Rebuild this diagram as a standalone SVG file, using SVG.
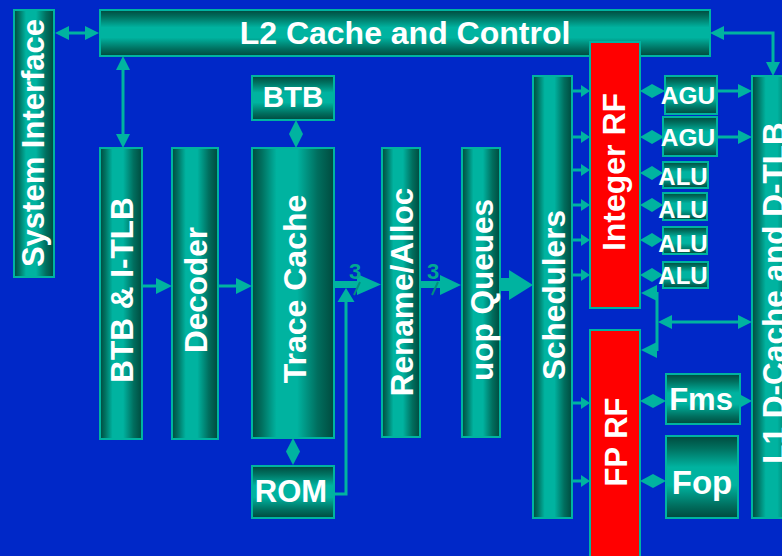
<svg xmlns="http://www.w3.org/2000/svg" width="782" height="556" viewBox="0 0 782 556">
  <defs>
    <!-- teal shading across vertical bars -->
    <linearGradient id="gv" x1="0" y1="0" x2="1" y2="0">
      <stop offset="0" stop-color="#004a3e"/>
      <stop offset="0.12" stop-color="#00705f"/>
      <stop offset="0.3" stop-color="#00b3a0"/>
      <stop offset="0.55" stop-color="#00b3a0"/>
      <stop offset="0.8" stop-color="#006e5e"/>
      <stop offset="1" stop-color="#004a3e"/>
    </linearGradient>
    <!-- teal shading down horizontal boxes -->
    <linearGradient id="gh" x1="0" y1="0" x2="0" y2="1">
      <stop offset="0" stop-color="#004a3e"/>
      <stop offset="0.15" stop-color="#00705f"/>
      <stop offset="0.38" stop-color="#00b3a0"/>
      <stop offset="0.6" stop-color="#00b3a0"/>
      <stop offset="0.85" stop-color="#006e5e"/>
      <stop offset="1" stop-color="#004a3e"/>
    </linearGradient>
    <style>
      .bv { fill: url(#gv); stroke: #00b3a0; stroke-width: 2; }
      .bh { fill: url(#gh); stroke: #00b3a0; stroke-width: 2; }
      .rf { fill: #ff0000; stroke: #00b3a0; stroke-width: 2; }
      .t { font-family: "Liberation Sans", Arial, sans-serif; font-weight: bold; fill: #ffffff; text-anchor: middle; }
      .ln { stroke: #00b3a0; stroke-width: 3; fill: none; }
      .hd { fill: #00b3a0; }
      .w { font-family: "Liberation Sans", Arial, sans-serif; font-weight: bold; fill: #00a892; text-anchor: middle; font-size: 22px; }
    </style>
  </defs>

  <rect x="0" y="0" width="782" height="556" fill="#0028c8"/>

  <!-- connectors -->
  <g id="connectors">
    <!-- System Interface <-> L2 -->
    <line class="ln" x1="68" y1="33" x2="86" y2="33"/>
    <polygon class="hd" points="55,33 69,26 69,40"/>
    <polygon class="hd" points="99,33 85,26 85,40"/>
    <!-- L2 <-> BTB & I-TLB -->
    <line class="ln" x1="123" y1="69" x2="123" y2="135"/>
    <polygon class="hd" points="123,56 116,70 130,70"/>
    <polygon class="hd" points="123,148 116,134 130,134"/>
    <!-- front end flow -->
    <line class="ln" x1="142" y1="286" x2="157" y2="286" stroke-width="4"/>
    <polygon class="hd" points="172,286 156,278 156,294"/>
    <line class="ln" x1="218" y1="286" x2="237" y2="286" stroke-width="4"/>
    <polygon class="hd" points="252,286 236,278 236,294"/>
    <!-- BTB <-> Trace Cache, Trace Cache <-> ROM -->
    <polygon class="hd" points="296,120 303,134 296,148 289,134"/>
    <polygon class="hd" points="293,438 300,451.5 293,465 286,451.5"/>
    <!-- Trace Cache -> Rename/Alloc (3 wide) -->
    <polygon class="hd" points="333,281 357,281 357,274 381,284.5 357,295 357,288 333,288"/>
    <!-- ROM feeds into the trace cache output -->
    <polyline class="ln" points="334,494 346,494 346,300"/>
    <polygon class="hd" points="346,288 337.5,302 354.5,302"/>
    <text class="w" x="355" y="279">3</text>
    <line x1="354" y1="295" x2="360" y2="282" stroke="#00907e" stroke-width="2"/>
    <!-- Rename/Alloc -> uop Queues (3 wide) -->
    <polygon class="hd" points="420,281 440,281 440,275 461,285 440,295 440,288 420,288"/>
    <text class="w" x="433" y="279">3</text>
    <line x1="432" y1="295" x2="438" y2="282" stroke="#00907e" stroke-width="2"/>
    <!-- uop Queues -> Schedulers -->
    <polygon class="hd" points="500,278 509,278 509,270 533,285 509,300 509,291 500,291"/>
    <!-- Schedulers -> Integer RF ports -->
    <g>
      <line class="ln" x1="572" y1="91" x2="582" y2="91" stroke-width="2"/>
      <polygon class="hd" points="590,91 581,85 581,97"/>
      <line class="ln" x1="572" y1="137" x2="582" y2="137" stroke-width="2"/>
      <polygon class="hd" points="590,137 581,131 581,143"/>
      <line class="ln" x1="572" y1="170" x2="582" y2="170" stroke-width="2"/>
      <polygon class="hd" points="590,170 581,164 581,176"/>
      <line class="ln" x1="572" y1="205" x2="582" y2="205" stroke-width="2"/>
      <polygon class="hd" points="590,205 581,199 581,211"/>
      <line class="ln" x1="572" y1="240" x2="582" y2="240" stroke-width="2"/>
      <polygon class="hd" points="590,240 581,234 581,246"/>
      <line class="ln" x1="572" y1="275" x2="582" y2="275" stroke-width="2"/>
      <polygon class="hd" points="590,275 581,269 581,281"/>
    </g>
    <!-- Schedulers -> FP RF ports -->
    <line class="ln" x1="572" y1="403" x2="582" y2="403" stroke-width="2"/>
    <polygon class="hd" points="590,403 581,397 581,409"/>
    <line class="ln" x1="572" y1="481" x2="582" y2="481" stroke-width="2"/>
    <polygon class="hd" points="590,481 581,475 581,487"/>
    <!-- Integer RF <-> execution units -->
    <polygon class="hd" points="640,91 652,84 665,91 652,98"/>
    <polygon class="hd" points="640,137 652,130 664,137 652,144"/>
    <polygon class="hd" points="640,173 652,166 663,173 652,180"/>
    <polygon class="hd" points="640,205 652,198 663,205 652,212"/>
    <polygon class="hd" points="640,240 652,233 663,240 652,247"/>
    <polygon class="hd" points="640,275 652,268 663,275 652,282"/>
    <!-- AGUs -> L1 -->
    <line class="ln" x1="717" y1="91" x2="740" y2="91"/>
    <polygon class="hd" points="752,91 738,84 738,98"/>
    <line class="ln" x1="717" y1="137" x2="740" y2="137"/>
    <polygon class="hd" points="752,137 738,130 738,144"/>
    <!-- L1 load data back into both register files -->
    <line class="ln" x1="657" y1="292" x2="657" y2="351"/>
    <polygon class="hd" points="641,293 657,285 657,301"/>
    <polygon class="hd" points="641,350 657,342 657,358"/>
    <line class="ln" x1="671" y1="322" x2="739" y2="322"/>
    <polygon class="hd" points="658,322 672,315 672,329"/>
    <polygon class="hd" points="752,322 738,315 738,329"/>
    <!-- FP RF <-> FP units -->
    <polygon class="hd" points="640,401 653,394 666,401 653,408"/>
    <polygon class="hd" points="640,481 653,474 666,481 653,488"/>
    <polygon class="hd" points="752,401 741,395 741,407"/>
    <!-- L2 <-> L1 -->
    <polyline class="ln" points="722,33 773,33 773,63"/>
    <polygon class="hd" points="710,33 724,26 724,40"/>
    <polygon class="hd" points="773,76 766,62 780,62"/>
  </g>

  <g id="system-interface">
    <rect class="bv" x="14" y="10" width="40" height="267"/>
    <text class="t" font-size="31" transform="translate(44,143) rotate(-90)">System Interface</text>
  </g>

  <g id="l2-cache">
    <rect class="bh" x="100" y="10" width="610" height="46"/>
    <text class="t" font-size="32" x="405" y="44">L2 Cache and Control</text>
  </g>

  <g id="btb-itlb">
    <rect class="bv" x="100" y="148" width="42" height="291"/>
    <text class="t" font-size="31.5" transform="translate(133,290) rotate(-90)">BTB &amp; I-TLB</text>
  </g>

  <g id="decoder">
    <rect class="bv" x="172" y="148" width="46" height="291"/>
    <text class="t" font-size="31.5" transform="translate(207,290) rotate(-90)">Decoder</text>
  </g>

  <g id="btb">
    <rect class="bh" x="252" y="76" width="82" height="44"/>
    <text class="t" font-size="29.5" x="293" y="107">BTB</text>
  </g>

  <g id="trace-cache">
    <rect class="bv" x="252" y="148" width="82" height="290"/>
    <text class="t" font-size="32" transform="translate(306,289) rotate(-90)">Trace Cache</text>
  </g>

  <g id="rom">
    <rect class="bh" x="252" y="466" width="82" height="52"/>
    <text class="t" font-size="31" x="291" y="502">ROM</text>
  </g>

  <g id="rename-alloc">
    <rect class="bv" x="382" y="148" width="38" height="289"/>
    <text class="t" font-size="31.5" transform="translate(413,292) rotate(-90)">Rename/Alloc</text>
  </g>

  <g id="uop-queues">
    <rect class="bv" x="462" y="148" width="38" height="289"/>
    <text class="t" font-size="31.5" transform="translate(493,290) rotate(-90)">uop Queues</text>
  </g>

  <g id="schedulers">
    <rect class="bv" x="533" y="76" width="39" height="442"/>
    <text class="t" font-size="31.5" transform="translate(565,295) rotate(-90)">Schedulers</text>
  </g>

  <g id="integer-rf">
    <rect class="rf" x="590" y="42" width="50" height="266"/>
    <text class="t" font-size="32" transform="translate(625,172) rotate(-90)">Integer RF</text>
  </g>

  <g id="fp-rf">
    <rect class="rf" x="590" y="330" width="50" height="240"/>
    <text class="t" font-size="31" transform="translate(627,442) rotate(-90)">FP RF</text>
  </g>

  <g id="agu-1">
    <rect class="bh" x="665" y="76" width="52" height="38"/>
    <text class="t" font-size="24.5" x="688" y="104">AGU</text>
  </g>
  <g id="agu-2">
    <rect class="bh" x="663" y="117" width="54" height="39"/>
    <text class="t" font-size="24.5" x="688" y="146">AGU</text>
  </g>
  <g id="alu-1">
    <rect class="bh" x="663" y="162" width="45" height="26"/>
    <text class="t" font-size="24" x="683" y="185">ALU</text>
  </g>
  <g id="alu-2">
    <rect class="bh" x="663" y="193" width="44" height="27"/>
    <text class="t" font-size="24" x="683" y="218">ALU</text>
  </g>
  <g id="alu-3">
    <rect class="bh" x="663" y="227" width="44" height="27"/>
    <text class="t" font-size="24" x="683" y="252">ALU</text>
  </g>
  <g id="alu-4">
    <rect class="bh" x="663" y="262" width="45" height="26"/>
    <text class="t" font-size="24" x="683" y="284">ALU</text>
  </g>

  <g id="fms">
    <rect class="bh" x="666" y="374" width="74" height="50"/>
    <text class="t" font-size="31" x="701" y="410">Fms</text>
  </g>
  <g id="fop">
    <rect class="bh" x="666" y="436" width="72" height="82"/>
    <text class="t" font-size="33" x="702" y="494">Fop</text>
  </g>

  <g id="l1-dcache">
    <rect class="bv" x="752" y="76" width="46" height="442"/>
    <text class="t" font-size="31.5" transform="translate(785,293) rotate(-90)">L1 D-Cache and D-TLB</text>
  </g>
</svg>
